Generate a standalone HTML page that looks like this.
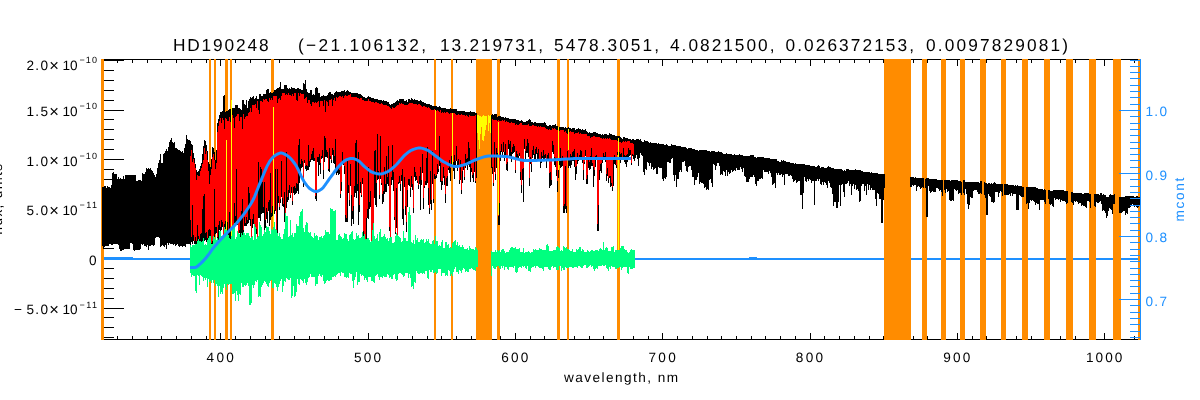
<!DOCTYPE html>
<html><head><meta charset="utf-8"><title>HD190248</title>
<style>html,body{margin:0;padding:0;background:#fff;}svg{display:block}</style></head>
<body>
<svg width="1200" height="400" viewBox="0 0 1200 400" shape-rendering="crispEdges" text-rendering="geometricPrecision">
<rect width="1200" height="400" fill="#fff"/>
<path d="M102.0 59.5H1140M102.0 339.5H1140M102.5 59V340M117.5 60v3M117.5 339v-3M132.5 60v3M132.5 339v-3M147.5 60v3M147.5 339v-3M161.5 60v3M161.5 339v-3M176.5 60v3M176.5 339v-3M191.5 60v3M191.5 339v-3M206.5 60v3M206.5 339v-3M220.5 60v6M220.5 339v-6M235.5 60v3M235.5 339v-3M250.5 60v3M250.5 339v-3M265.5 60v3M265.5 339v-3M279.5 60v3M279.5 339v-3M294.5 60v3M294.5 339v-3M309.5 60v3M309.5 339v-3M324.5 60v3M324.5 339v-3M338.5 60v3M338.5 339v-3M353.5 60v3M353.5 339v-3M368.5 60v6M368.5 339v-6M382.5 60v3M382.5 339v-3M397.5 60v3M397.5 339v-3M412.5 60v3M412.5 339v-3M427.5 60v3M427.5 339v-3M441.5 60v3M441.5 339v-3M456.5 60v3M456.5 339v-3M471.5 60v3M471.5 339v-3M486.5 60v3M486.5 339v-3M500.5 60v3M500.5 339v-3M515.5 60v6M515.5 339v-6M530.5 60v3M530.5 339v-3M544.5 60v3M544.5 339v-3M559.5 60v3M559.5 339v-3M574.5 60v3M574.5 339v-3M589.5 60v3M589.5 339v-3M603.5 60v3M603.5 339v-3M618.5 60v3M618.5 339v-3M633.5 60v3M633.5 339v-3M648.5 60v3M648.5 339v-3M662.5 60v6M662.5 339v-6M677.5 60v3M677.5 339v-3M692.5 60v3M692.5 339v-3M707.5 60v3M707.5 339v-3M721.5 60v3M721.5 339v-3M736.5 60v3M736.5 339v-3M751.5 60v3M751.5 339v-3M765.5 60v3M765.5 339v-3M780.5 60v3M780.5 339v-3M795.5 60v3M795.5 339v-3M810.5 60v6M810.5 339v-6M824.5 60v3M824.5 339v-3M839.5 60v3M839.5 339v-3M854.5 60v3M854.5 339v-3M869.5 60v3M869.5 339v-3M883.5 60v3M883.5 339v-3M898.5 60v3M898.5 339v-3M913.5 60v3M913.5 339v-3M927.5 60v3M927.5 339v-3M942.5 60v3M942.5 339v-3M957.5 60v6M957.5 339v-6M972.5 60v3M972.5 339v-3M986.5 60v3M986.5 339v-3M1001.5 60v3M1001.5 339v-3M1016.5 60v3M1016.5 339v-3M1031.5 60v3M1031.5 339v-3M1045.5 60v3M1045.5 339v-3M1060.5 60v3M1060.5 339v-3M1075.5 60v3M1075.5 339v-3M1090.5 60v3M1090.5 339v-3M1104.5 60v6M1104.5 339v-6M1119.5 60v3M1119.5 339v-3M1134.5 60v3M1134.5 339v-3M104 337.5h10M104 327.5h10M104 317.5h10M104 308.5h20M104 298.5h10M104 288.5h10M104 278.5h10M104 268.5h10M104 258.5h20M104 248.5h10M104 238.5h10M104 228.5h10M104 218.5h10M104 209.5h20M104 199.5h10M104 189.5h10M104 179.5h10M104 169.5h10M104 159.5h20M104 149.5h10M104 139.5h10M104 129.5h10M104 119.5h10M104 110.5h20M104 100.5h10M104 90.5h10M104 80.5h10M104 70.5h10" stroke="#000" stroke-width="1" fill="none"/>
<path d="M104 60.5h20" stroke="#000" stroke-width="1"/>
<path d="M104 259H190M634 259H1139" stroke="#1E90FF" stroke-width="2" fill="none"/>
<path d="M102 257.5H133M749 257.5H757" stroke="#1E90FF" stroke-width="1" fill="none"/>
<g fill="#FF8C00">
<rect x="101" y="59" width="3" height="281"/>
<rect x="209" y="59" width="2" height="281"/>
<rect x="214" y="59" width="2" height="281"/>
<rect x="225" y="59" width="3" height="281"/>
<rect x="230" y="59" width="2" height="281"/>
<rect x="271" y="59" width="3" height="281"/>
<rect x="434" y="59" width="2" height="281"/>
<rect x="451" y="59" width="2" height="281"/>
<rect x="476" y="59" width="16" height="281"/>
<rect x="497" y="59" width="3" height="281"/>
<rect x="557" y="59" width="3" height="281"/>
<rect x="567" y="59" width="2" height="281"/>
<rect x="617" y="59" width="3" height="281"/>
<rect x="884" y="59" width="27" height="281"/>
<rect x="922" y="59" width="5" height="281"/>
<rect x="941" y="59" width="5" height="281"/>
<rect x="960" y="59" width="5" height="281"/>
<rect x="980" y="59" width="6" height="281"/>
<rect x="1001" y="59" width="5" height="281"/>
<rect x="1022" y="59" width="6" height="281"/>
<rect x="1044" y="59" width="6" height="281"/>
<rect x="1066" y="59" width="7" height="281"/>
<rect x="1089" y="59" width="7" height="281"/>
<rect x="1113" y="59" width="8" height="281"/>
<rect x="1138" y="59" width="2" height="281"/>
</g>
<path d="M102.5 187.1V245.7M103.5 186.6V249.1M104.5 186.1V247.1M105.5 185.6V245.7M106.5 188.2V246.4M107.5 186.4V246.4M108.5 187.2V245.6M109.5 186.7V244.1M110.5 188.0V244.0M111.5 185.0V244.9M112.5 173.1V245.3M113.5 171.8V244.3M114.5 174.4V243.7M115.5 173.7V244.1M116.5 173.7V244.0M117.5 178.7V243.8M118.5 176.5V244.8M119.5 178.6V248.9M120.5 178.0V250.6M121.5 178.9V250.6M122.5 178.8V250.0M123.5 176.1V250.4M124.5 178.7V248.7M125.5 175.2V248.7M126.5 175.2V248.7M127.5 175.1V249.4M128.5 174.9V249.3M129.5 175.0V248.5M130.5 174.6V243.4M131.5 174.6V243.3M132.5 175.4V244.0M133.5 175.4V250.2M134.5 175.3V250.5M135.5 175.4V250.4M136.5 180.6V249.9M137.5 180.8V250.4M138.5 179.9V249.7M139.5 180.1V250.1M140.5 180.3V249.4M141.5 180.5V244.2M142.5 173.3V244.9M143.5 173.5V244.3M144.5 173.7V245.7M145.5 171.9V246.0M146.5 168.3V247.0M147.5 168.9V244.9M148.5 167.8V250.2M149.5 169.3V245.7M150.5 168.1V246.1M151.5 169.6V244.8M152.5 171.1V244.6M153.5 172.6V246.0M154.5 175.3V245.4M155.5 176.8V237.8M156.5 173.7V237.2M157.5 168.4V237.3M158.5 163.1V236.9M159.5 160.0V238.0M160.5 154.3V246.8M161.5 163.4V245.7M162.5 162.5V245.4M163.5 154.1V245.5M164.5 153.3V246.5M165.5 150.9V245.4M166.5 149.3V249.2M167.5 151.1V243.4M168.5 147.2V245.1M169.5 141.7V243.4M170.5 139.6V243.6M171.5 138.1V243.8M172.5 142.3V243.5M173.5 143.3V245.2M174.5 142.1V243.8M175.5 147.5V245.9M176.5 148.2V244.8M177.5 148.9V244.0M178.5 149.6V246.1M179.5 149.8V247.1M180.5 150.8V245.7M181.5 152.1V246.3M182.5 151.3V247.1M183.5 152.6V246.0M184.5 147.5V246.3M185.5 144.1V246.8M186.5 135.4V243.9M187.5 139.0V244.0M188.5 140.0V243.9M189.5 139.7V244.4M190.5 140.6V250.6M191.5 144.0V242.4M192.5 145.4V243.6M193.5 152.9V240.9M194.5 158.1V243.8M195.5 163.7V248.9M196.5 169.8V246.0M197.5 171.9V245.9M198.5 171.0V245.9M199.5 168.9V246.7M200.5 166.2V244.8M201.5 162.6V242.6M202.5 154.2V241.6M203.5 146.2V242.3M204.5 140.4V240.9M205.5 141.0V240.4M206.5 145.0V242.0M207.5 151.0V242.2M208.5 161.9V240.8M209.5 164.3V239.0M210.5 166.8V240.9M211.5 158.7V250.6M212.5 147.0V246.3M213.5 147.5V247.6M214.5 151.5V237.0M215.5 160.4V234.0M216.5 150.2V232.5M217.5 122.8V245.1M218.5 118.7V244.8M219.5 115.4V229.8M220.5 111.7V232.1M221.5 112.0V229.7M222.5 111.0V227.2M223.5 96.1V239.8M224.5 95.0V233.6M225.5 111.5V229.1M226.5 111.4V229.9M227.5 111.4V236.9M228.5 109.5V240.8M229.5 109.2V249.4M230.5 109.3V238.5M231.5 108.9V240.1M232.5 107.9V249.0M233.5 107.6V249.0M234.5 107.7V230.6M235.5 104.9V225.6M236.5 105.1V224.5M237.5 104.5V224.6M238.5 107.9V249.1M239.5 107.5V232.9M240.5 109.3V238.4M241.5 109.9V250.0M242.5 99.7V250.0M243.5 99.7V231.8M244.5 104.4V225.7M245.5 104.8V226.4M246.5 100.1V226.3M247.5 108.1V224.4M248.5 100.6V223.0M249.5 98.8V220.1M250.5 97.2V226.0M251.5 98.0V247.0M252.5 97.1V227.8M253.5 96.2V224.0M254.5 99.0V234.7M255.5 98.2V243.2M256.5 96.4V233.7M257.5 99.1V239.6M258.5 98.6V218.4M259.5 94.4V217.9M260.5 94.1V220.8M261.5 96.3V213.9M262.5 96.2V212.8M263.5 94.1V213.2M264.5 93.9V232.2M265.5 93.7V228.3M266.5 89.5V218.7M267.5 89.4V222.6M268.5 88.9V210.6M269.5 92.6V226.1M270.5 91.8V219.6M271.5 93.3V217.4M272.5 93.0V216.2M273.5 92.0V209.8M274.5 90.0V214.2M275.5 89.6V211.2M276.5 89.2V241.6M277.5 88.2V243.3M278.5 88.0V202.8M279.5 86.9V210.1M280.5 82.1V203.4M281.5 88.8V197.2M282.5 88.9V205.6M283.5 88.8V206.6M284.5 84.9V221.6M285.5 84.6V227.9M286.5 84.7V208.0M287.5 88.3V201.9M288.5 89.2V199.7M289.5 88.0V193.1M290.5 88.6V197.9M291.5 87.4V192.6M292.5 87.7V205.2M293.5 87.9V193.2M294.5 88.1V194.7M295.5 89.0V194.3M296.5 89.3V192.7M297.5 87.9V190.5M298.5 88.0V194.1M299.5 89.3V183.0M300.5 89.3V174.0M301.5 89.6V168.3M302.5 89.7V167.4M303.5 82.9V186.6M304.5 84.4V163.4M305.5 79.6V168.8M306.5 88.9V171.4M307.5 91.8V170.2M308.5 92.8V170.0M309.5 92.7V166.5M310.5 90.2V161.9M311.5 90.4V160.1M312.5 94.9V160.1M313.5 94.0V160.6M314.5 94.6V160.9M315.5 87.6V199.4M316.5 87.4V200.8M317.5 88.0V162.1M318.5 93.2V175.9M319.5 93.4V165.3M320.5 96.6V173.6M321.5 96.3V159.1M322.5 95.6V158.4M323.5 95.4V178.6M324.5 95.7V161.5M325.5 95.9V157.2M326.5 95.7V156.6M327.5 95.3V157.8M328.5 92.7V170.6M329.5 92.2V171.8M330.5 92.4V159.4M331.5 94.4V163.1M332.5 94.1V154.7M333.5 94.6V162.8M334.5 92.5V163.8M335.5 91.6V171.7M336.5 91.3V175.3M337.5 91.8V173.4M338.5 91.7V174.9M339.5 91.6V174.1M340.5 92.4V198.0M341.5 91.3V191.1M342.5 90.8V163.7M343.5 90.5V165.2M344.5 90.3V174.0M345.5 92.1V222.0M346.5 91.4V222.0M347.5 89.6V222.0M348.5 91.4V192.5M349.5 91.7V206.0M350.5 91.7V185.9M351.5 92.7V225.6M352.5 92.5V218.6M353.5 92.8V223.9M354.5 93.3V196.9M355.5 92.8V192.7M356.5 93.2V198.4M357.5 93.2V191.4M358.5 93.8V224.5M359.5 94.4V211.7M360.5 94.4V192.5M361.5 94.6V197.4M362.5 96.2V183.6M363.5 96.7V237.9M364.5 96.9V251.4M365.5 97.6V246.8M366.5 98.0V241.8M367.5 96.7V218.1M368.5 96.2V219.2M369.5 96.7V208.6M370.5 96.6V206.8M371.5 97.6V249.7M372.5 97.9V249.7M373.5 98.0V251.8M374.5 98.8V197.8M375.5 98.6V204.9M376.5 98.6V206.6M377.5 98.8V180.0M378.5 99.5V178.8M379.5 99.8V198.7M380.5 100.2V179.4M381.5 99.8V185.3M382.5 100.5V203.9M383.5 100.2V201.8M384.5 100.8V194.2M385.5 101.1V192.1M386.5 101.4V192.0M387.5 102.0V183.8M388.5 101.9V185.8M389.5 103.8V231.1M390.5 104.6V247.6M391.5 104.4V185.3M392.5 103.6V180.3M393.5 103.3V191.2M394.5 103.3V219.9M395.5 101.9V234.1M396.5 101.0V227.9M397.5 100.4V241.4M398.5 100.7V184.3M399.5 99.1V183.0M400.5 98.6V190.9M401.5 99.1V180.9M402.5 99.3V218.9M403.5 99.0V225.3M404.5 100.9V187.3M405.5 101.3V214.7M406.5 100.4V232.2M407.5 101.5V207.4M408.5 99.4V184.8M409.5 99.2V185.7M410.5 99.5V197.4M411.5 97.7V186.8M412.5 98.7V189.6M413.5 99.7V212.5M414.5 99.1V177.1M415.5 99.9V181.3M416.5 100.1V180.3M417.5 100.2V183.1M418.5 100.5V188.5M419.5 100.7V184.4M420.5 100.4V210.0M421.5 101.2V185.2M422.5 102.0V172.8M423.5 102.1V208.8M424.5 103.1V188.4M425.5 102.7V185.1M426.5 103.5V185.3M427.5 104.1V182.6M428.5 104.3V204.7M429.5 104.4V214.4M430.5 105.0V204.1M431.5 105.4V209.8M432.5 106.0V184.0M433.5 106.1V202.7M434.5 106.2V178.6M435.5 105.9V179.0M436.5 106.2V177.6M437.5 106.7V173.7M438.5 107.2V172.3M439.5 106.0V165.5M440.5 107.0V181.5M441.5 108.2V189.6M442.5 107.7V184.8M443.5 108.2V178.0M444.5 108.3V185.2M445.5 108.1V203.0M446.5 108.5V186.0M447.5 108.5V186.1M448.5 108.6V170.4M449.5 108.7V172.5M450.5 108.4V180.5M451.5 108.9V166.2M452.5 109.2V166.8M453.5 108.9V170.8M454.5 108.7V179.4M455.5 108.7V164.5M456.5 109.4V161.1M457.5 110.7V170.9M458.5 110.5V165.1M459.5 110.7V183.7M460.5 110.8V180.0M461.5 111.0V194.4M462.5 110.9V182.6M463.5 111.0V170.1M464.5 111.2V179.6M465.5 112.0V168.0M466.5 111.8V164.7M467.5 111.7V169.8M468.5 111.6V165.0M469.5 111.6V167.3M470.5 111.3V182.4M471.5 111.6V172.3M472.5 111.9V178.4M473.5 112.2V182.0M474.5 112.4V171.5M475.5 113.1V183.3M476.5 112.7V178.3M491.5 114.7V167.5M492.5 114.3V174.2M493.5 114.8V185.9M494.5 114.1V172.4M495.5 114.2V179.6M496.5 114.3V168.4M497.5 116.6V155.8M498.5 116.4V225.0M499.5 116.4V225.0M500.5 116.4V161.3M501.5 117.4V151.8M502.5 117.3V155.5M503.5 116.7V152.4M504.5 117.5V160.7M505.5 117.1V156.9M506.5 117.6V170.3M507.5 117.9V171.1M508.5 117.8V148.5M509.5 119.1V155.9M510.5 118.7V156.0M511.5 118.8V161.8M512.5 118.6V153.5M513.5 119.0V152.7M514.5 119.0V151.6M515.5 119.1V173.0M516.5 120.1V157.5M517.5 120.4V158.6M518.5 119.8V160.4M519.5 120.7V156.2M520.5 120.7V180.1M521.5 120.0V193.4M522.5 120.5V179.9M523.5 121.6V201.6M524.5 121.8V148.8M525.5 121.7V158.9M526.5 121.3V152.5M527.5 120.6V153.4M528.5 119.5V157.3M529.5 119.2V185.5M530.5 120.0V163.5M531.5 122.1V171.9M532.5 121.9V157.8M533.5 122.5V154.7M534.5 122.0V158.5M535.5 122.4V162.3M536.5 122.9V153.7M537.5 122.8V159.7M538.5 122.5V158.8M539.5 123.0V161.1M540.5 123.1V167.5M541.5 123.1V162.8M542.5 122.6V158.2M543.5 123.3V159.5M544.5 122.1V159.8M545.5 122.7V158.4M546.5 124.5V167.7M547.5 125.7V159.1M548.5 125.8V159.3M549.5 124.9V187.6M550.5 125.1V186.1M551.5 126.1V184.8M552.5 124.5V151.6M553.5 124.6V153.8M554.5 125.4V164.6M555.5 123.9V167.1M556.5 126.4V176.0M557.5 126.1V191.6M558.5 126.8V177.5M559.5 126.6V165.0M560.5 126.6V168.4M561.5 127.0V166.5M562.5 127.2V165.8M563.5 126.9V213.4M564.5 127.5V212.9M565.5 127.2V209.3M566.5 127.6V213.2M567.5 128.4V158.9M568.5 127.0V168.0M569.5 128.0V165.6M570.5 128.0V168.1M571.5 129.2V164.5M572.5 127.7V161.2M573.5 127.8V160.7M574.5 128.1V167.0M575.5 129.5V180.0M576.5 128.5V174.1M577.5 128.5V164.2M578.5 128.2V160.9M579.5 128.6V157.0M580.5 129.3V158.0M581.5 129.8V159.5M582.5 129.3V163.4M583.5 129.5V179.9M584.5 129.6V164.3M585.5 129.4V155.6M586.5 131.0V183.7M587.5 132.1V184.4M588.5 132.6V167.6M589.5 131.8V169.5M590.5 133.2V169.2M591.5 133.1V165.7M592.5 133.3V165.6M593.5 131.8V187.4M594.5 132.3V176.3M595.5 132.3V166.5M596.5 132.8V160.2M597.5 133.2V231.0M598.5 133.7V231.0M599.5 133.7V180.0M600.5 133.6V170.8M601.5 134.7V173.3M602.5 134.4V163.4M603.5 134.5V157.6M604.5 133.8V158.8M605.5 133.7V162.4M606.5 134.4V180.7M607.5 134.8V176.0M608.5 134.5V183.2M609.5 133.3V178.0M610.5 133.6V187.0M611.5 133.6V185.6M612.5 135.1V191.2M613.5 134.9V186.2M614.5 135.2V163.6M615.5 136.4V164.5M616.5 136.1V167.7M617.5 136.4V154.5M618.5 136.4V159.2M619.5 136.4V156.9M620.5 137.1V163.4M621.5 138.4V157.4M622.5 138.6V160.2M623.5 137.1V159.0M624.5 137.4V162.2M625.5 137.7V164.4M626.5 137.8V167.0M627.5 138.4V161.6M628.5 138.6V158.6M629.5 138.7V156.3M630.5 139.1V155.3M631.5 139.6V164.9M632.5 139.2V156.2M633.5 139.3V159.4M634.5 140.1V160.7M635.5 139.8V158.4M636.5 138.8V154.7M637.5 138.8V159.2M638.5 139.0V166.2M639.5 139.8V158.1M640.5 139.2V152.6M641.5 141.3V155.1M642.5 142.0V155.6M643.5 141.5V172.0M644.5 140.3V175.0M645.5 140.7V169.4M646.5 140.7V170.3M647.5 141.0V162.0M648.5 141.9V162.8M649.5 142.5V165.6M650.5 142.2V162.9M651.5 142.8V168.7M652.5 142.6V167.4M653.5 143.0V169.5M654.5 143.4V169.3M655.5 143.2V167.9M656.5 143.4V174.0M657.5 143.9V173.5M658.5 143.3V167.4M659.5 143.7V168.0M660.5 144.0V168.1M661.5 143.6V167.7M662.5 144.1V179.4M663.5 144.3V180.6M664.5 144.7V178.4M665.5 144.9V178.6M666.5 144.3V177.0M667.5 144.7V162.1M668.5 145.5V161.7M669.5 145.7V162.8M670.5 146.1V163.4M671.5 144.3V158.9M672.5 144.9V157.5M673.5 144.5V174.9M674.5 144.8V180.5M675.5 145.3V174.6M676.5 146.3V187.2M677.5 146.3V178.9M678.5 145.6V179.1M679.5 145.6V171.7M680.5 145.7V170.3M681.5 146.6V171.9M682.5 146.6V161.6M683.5 146.7V161.8M684.5 147.3V161.2M685.5 147.4V166.2M686.5 148.0V170.8M687.5 148.6V172.2M688.5 148.2V166.8M689.5 147.8V165.6M690.5 147.9V165.9M691.5 148.3V169.9M692.5 149.1V177.1M693.5 149.2V177.1M694.5 149.0V184.7M695.5 149.6V180.1M696.5 149.9V179.6M697.5 149.8V177.2M698.5 150.5V172.6M699.5 150.2V184.4M700.5 150.1V181.8M701.5 150.2V183.2M702.5 149.7V182.9M703.5 150.3V183.8M704.5 150.2V188.4M705.5 150.1V186.8M706.5 150.4V189.8M707.5 150.9V189.4M708.5 151.0V190.2M709.5 151.2V179.7M710.5 151.8V178.6M711.5 151.4V182.7M712.5 151.3V186.5M713.5 151.0V163.7M714.5 151.1V164.8M715.5 151.5V169.5M716.5 151.8V166.3M717.5 152.1V163.3M718.5 151.3V163.1M719.5 152.0V166.0M720.5 151.9V175.3M721.5 152.1V173.8M722.5 153.4V174.5M723.5 153.9V170.5M724.5 153.9V171.7M725.5 153.7V176.2M726.5 153.3V169.5M727.5 154.1V175.8M728.5 153.6V172.2M729.5 154.2V173.9M730.5 153.8V173.4M731.5 153.7V169.9M732.5 154.9V171.5M733.5 154.8V171.2M734.5 154.3V170.4M735.5 155.0V171.4M736.5 154.6V168.0M737.5 154.9V170.2M738.5 154.6V169.9M739.5 154.4V170.0M740.5 155.0V167.3M741.5 155.2V169.1M742.5 155.0V172.1M743.5 155.6V167.9M744.5 155.8V176.2M745.5 155.8V176.7M746.5 155.5V181.9M747.5 155.8V181.6M748.5 155.8V181.5M749.5 156.1V178.8M750.5 154.8V177.4M751.5 155.0V177.2M752.5 155.2V177.3M753.5 155.2V174.9M754.5 157.2V177.4M755.5 156.7V183.8M756.5 157.5V185.8M757.5 157.4V180.5M758.5 156.8V180.7M759.5 156.5V178.7M760.5 157.3V179.4M761.5 157.3V178.4M762.5 156.8V178.6M763.5 157.1V170.4M764.5 157.7V171.8M765.5 157.8V171.5M766.5 157.7V171.6M767.5 158.1V172.0M768.5 158.1V173.7M769.5 158.3V171.4M770.5 158.7V172.7M771.5 159.1V176.6M772.5 159.1V184.9M773.5 159.0V183.9M774.5 159.1V182.7M775.5 159.3V187.5M776.5 159.2V172.8M777.5 161.4V175.0M778.5 161.2V172.9M779.5 162.0V175.4M780.5 162.1V174.7M781.5 160.2V173.6M782.5 160.5V177.0M783.5 160.4V174.9M784.5 160.7V185.1M785.5 161.4V174.3M786.5 161.7V174.3M787.5 161.8V174.4M788.5 161.8V176.1M789.5 162.3V175.8M790.5 162.7V175.0M791.5 163.0V175.6M792.5 162.9V178.9M793.5 162.9V181.5M794.5 163.7V181.0M795.5 163.2V180.1M796.5 163.6V183.4M797.5 164.0V182.1M798.5 164.0V181.4M799.5 163.9V181.0M800.5 164.2V194.8M801.5 163.9V194.7M802.5 164.0V209.0M803.5 163.8V192.7M804.5 163.7V177.4M805.5 165.0V180.8M806.5 164.9V182.0M807.5 165.1V178.6M808.5 165.3V181.1M809.5 165.1V179.2M810.5 165.7V179.5M811.5 165.8V182.5M812.5 165.8V180.6M813.5 166.2V181.4M814.5 166.3V204.5M815.5 166.5V180.7M816.5 166.6V180.6M817.5 165.5V179.3M818.5 165.1V181.4M819.5 165.6V179.0M820.5 167.6V184.4M821.5 167.3V185.2M822.5 167.4V182.4M823.5 167.4V184.6M824.5 167.6V181.8M825.5 167.7V182.6M826.5 167.5V184.8M827.5 166.6V188.0M828.5 166.2V181.1M829.5 167.3V182.7M830.5 167.0V187.1M831.5 167.7V188.0M832.5 167.7V193.9M833.5 167.8V205.7M834.5 169.2V201.5M835.5 169.4V202.0M836.5 169.3V208.0M837.5 169.4V208.0M838.5 168.9V201.7M839.5 168.6V185.2M840.5 169.0V205.8M841.5 168.8V184.8M842.5 170.4V184.4M843.5 170.6V192.0M844.5 170.4V196.6M845.5 170.6V183.7M846.5 168.5V183.9M847.5 168.7V182.5M848.5 168.5V181.3M849.5 169.9V185.6M850.5 169.5V183.6M851.5 170.0V195.1M852.5 169.8V185.9M853.5 170.2V183.6M854.5 170.4V188.5M855.5 169.2V185.4M856.5 169.7V189.5M857.5 169.7V189.1M858.5 170.3V190.7M859.5 170.4V201.9M860.5 170.3V201.3M861.5 171.0V186.3M862.5 171.0V184.0M863.5 172.1V184.0M864.5 171.8V190.8M865.5 171.9V185.6M866.5 171.5V194.9M867.5 172.0V184.1M868.5 172.1V189.8M869.5 172.2V185.0M870.5 172.7V189.5M871.5 172.3V188.2M872.5 172.7V190.0M873.5 172.5V190.3M874.5 172.9V190.2M875.5 172.9V198.8M876.5 172.8V206.3M877.5 173.0V193.4M878.5 173.5V194.4M879.5 173.5V199.2M880.5 173.9V199.1M881.5 173.9V223.0M882.5 174.3V223.0M883.5 174.4V199.7M884.5 174.1V187.8M910.5 176.8V186.9M911.5 176.8V187.2M912.5 177.1V184.5M913.5 177.3V186.2M914.5 177.5V185.3M915.5 177.4V184.7M916.5 177.8V190.7M917.5 177.9V186.9M918.5 177.5V186.4M919.5 177.9V186.7M920.5 177.6V189.3M921.5 178.2V188.1M922.5 177.7V187.3M923.5 177.9V187.9M925.5 178.7V187.6M926.5 178.2V217.0M927.5 177.6V217.0M928.5 177.5V186.4M929.5 179.0V190.7M930.5 178.6V192.6M931.5 178.9V191.7M932.5 178.8V190.8M933.5 179.2V191.9M934.5 178.9V191.9M935.5 178.9V191.9M936.5 179.3V187.8M937.5 179.8V188.2M938.5 179.6V189.0M939.5 180.1V191.3M940.5 179.9V189.6M941.5 179.8V192.0M942.5 180.1V195.7M944.5 180.0V189.7M945.5 180.0V192.6M946.5 180.2V189.4M947.5 179.8V192.3M948.5 180.3V191.0M949.5 180.3V200.3M950.5 180.5V201.0M951.5 180.1V200.8M952.5 180.2V200.4M953.5 179.5V200.5M954.5 179.8V189.0M955.5 179.8V189.9M956.5 179.8V190.8M957.5 179.8V189.6M958.5 181.0V193.8M959.5 181.4V193.0M960.5 181.1V193.4M961.5 181.5V194.7M963.5 180.2V192.7M964.5 180.1V194.5M965.5 181.6V189.3M966.5 182.3V193.5M967.5 181.6V204.0M968.5 182.3V209.2M969.5 181.7V204.7M970.5 182.2V197.4M971.5 182.4V197.5M972.5 182.4V198.2M973.5 182.4V190.5M974.5 182.4V190.1M975.5 182.1V190.4M976.5 181.9V190.2M977.5 182.3V191.7M978.5 182.1V193.7M979.5 182.5V193.8M980.5 181.2V192.6M981.5 181.4V194.0M984.5 181.9V195.0M985.5 183.4V197.9M986.5 183.3V214.9M987.5 183.8V214.5M988.5 182.9V194.4M989.5 183.0V195.9M990.5 183.6V196.5M991.5 183.4V202.2M992.5 183.6V201.7M993.5 182.5V202.6M994.5 182.3V201.9M995.5 182.5V192.0M996.5 183.6V191.9M997.5 184.2V192.0M998.5 183.5V197.0M999.5 183.8V193.3M1000.5 183.5V191.1M1001.5 184.0V191.6M1002.5 184.1V196.1M1004.5 183.6V195.3M1005.5 184.2V195.3M1006.5 184.2V194.9M1007.5 184.4V194.8M1008.5 184.7V195.1M1009.5 185.2V193.6M1010.5 185.0V196.4M1011.5 185.1V193.2M1012.5 185.2V195.5M1013.5 185.3V193.7M1014.5 185.7V193.9M1015.5 185.4V194.0M1016.5 185.6V210.0M1017.5 185.4V210.0M1018.5 185.7V210.0M1019.5 186.3V195.2M1020.5 186.4V195.6M1021.5 185.8V196.6M1022.5 186.6V196.6M1023.5 186.5V197.1M1026.5 186.7V204.2M1027.5 186.6V202.9M1028.5 186.7V209.0M1029.5 187.1V203.4M1030.5 186.7V199.9M1031.5 187.1V200.8M1032.5 186.6V200.4M1033.5 187.1V200.9M1034.5 187.3V201.6M1035.5 187.2V204.5M1036.5 187.5V202.8M1037.5 187.5V203.8M1038.5 188.5V204.0M1039.5 188.7V209.7M1040.5 188.7V200.4M1041.5 188.8V199.9M1042.5 189.0V200.2M1043.5 189.5V200.2M1044.5 189.1V201.5M1045.5 189.7V203.8M1048.5 190.3V199.0M1049.5 189.8V204.4M1050.5 190.5V205.1M1051.5 190.5V204.2M1052.5 190.9V206.1M1053.5 190.3V206.5M1054.5 189.9V198.4M1055.5 190.3V199.5M1056.5 190.0V198.5M1057.5 190.2V198.7M1058.5 189.7V200.3M1059.5 189.8V198.5M1060.5 189.6V202.4M1061.5 189.9V199.8M1062.5 190.1V201.0M1063.5 189.8V200.8M1064.5 190.6V201.3M1065.5 190.7V201.7M1066.5 191.0V203.5M1067.5 191.1V202.8M1071.5 191.8V202.2M1072.5 191.6V202.6M1073.5 192.6V205.2M1074.5 192.5V201.0M1075.5 192.7V202.3M1076.5 193.1V201.0M1077.5 193.1V202.0M1078.5 193.2V203.9M1079.5 192.9V202.6M1080.5 193.3V203.1M1081.5 193.4V206.4M1082.5 193.6V204.9M1083.5 193.5V206.0M1084.5 192.9V205.5M1085.5 193.1V207.0M1086.5 192.5V208.0M1087.5 193.0V200.9M1088.5 193.2V201.3M1089.5 193.6V202.3M1090.5 193.8V207.7M1094.5 193.6V205.6M1095.5 193.5V207.0M1096.5 194.4V202.0M1097.5 194.2V202.7M1098.5 194.3V203.0M1099.5 194.7V202.4M1100.5 193.1V201.2M1101.5 193.3V203.5M1102.5 194.6V211.1M1103.5 194.4V210.2M1104.5 195.1V211.0M1105.5 195.1V212.9M1106.5 197.0V217.6M1107.5 197.4V215.7M1108.5 197.0V210.5M1109.5 194.9V208.1M1110.5 194.4V208.8M1111.5 194.7V209.6M1112.5 195.3V213.5M1113.5 194.7V203.8M1114.5 194.3V203.9M1119.5 196.8V212.5M1120.5 197.3V213.1M1121.5 197.0V212.9M1122.5 197.1V211.5M1123.5 197.3V210.6M1124.5 196.7V211.2M1125.5 195.9V215.1M1126.5 195.7V213.3M1127.5 195.5V213.7M1128.5 195.8V208.0M1129.5 196.1V208.1M1130.5 196.0V206.5M1131.5 196.3V205.1M1132.5 196.2V204.4M1133.5 196.4V205.4M1134.5 196.7V206.5M1135.5 196.7V205.7M1136.5 196.3V207.0M1137.5 196.2V208.3M1138.5 196.9V207.3M1139.5 196.6V205.2" stroke="#000" stroke-width="1" fill="none"/>
<path d="M190.5 155.8V219.7M191.5 149.6V237.0M192.5 161.9V205.2M193.5 158.7V235.2M194.5 162.9V241.2M195.5 167.7V237.3M196.5 179.6V241.2M197.5 175.0V225.2M198.5 175.9V236.4M199.5 175.6V239.2M200.5 170.9V233.8M201.5 168.0V232.6M202.5 164.0V209.3M203.5 159.7V196.4M204.5 148.2V194.3M205.5 154.0V232.9M206.5 150.5V231.6M207.5 159.6V238.0M208.5 170.5V229.8M209.5 184.0V228.6M210.5 174.9V230.0M211.5 168.8V243.0M212.5 157.2V240.9M213.5 153.8V238.2M214.5 159.8V189.3M215.5 168.6V227.1M216.5 162.5V226.9M217.5 131.9V236.5M218.5 125.6V224.9M219.5 120.9V220.6M220.5 118.4V227.3M221.5 123.2V219.7M222.5 118.3V221.8M223.5 119.9V235.9M224.5 128.5V224.0M225.5 117.6V221.0M226.5 119.0V224.3M227.5 121.1V222.3M228.5 121.1V232.2M229.5 116.7V212.1M230.5 122.2V227.6M231.5 129.0V233.1M232.5 115.0V230.3M233.5 117.9V238.0M234.5 128.1V203.1M235.5 116.7V216.2M236.5 115.9V168.5M237.5 113.8V220.6M238.5 114.4V243.5M239.5 120.8V230.4M240.5 116.6V216.8M241.5 116.9V210.8M242.5 129.3V199.4M243.5 113.6V229.5M244.5 118.6V217.2M245.5 117.0V223.3M246.5 116.4V216.9M247.5 116.2V220.3M248.5 113.1V186.6M249.5 111.6V192.9M250.5 107.8V219.4M251.5 111.9V240.5M252.5 104.8V218.9M253.5 105.0V213.5M254.5 104.8V232.1M255.5 104.0V236.3M256.5 108.1V229.1M257.5 101.4V236.8M258.5 109.9V161.6M259.5 114.2V187.1M260.5 100.9V167.4M261.5 101.0V169.1M262.5 101.8V182.3M263.5 99.4V206.5M264.5 100.1V182.1M265.5 99.4V219.6M266.5 99.2V208.1M267.5 101.1V211.8M268.5 101.7V202.3M269.5 98.0V199.5M270.5 100.2V173.3M271.5 98.1V213.1M272.5 100.0V205.9M273.5 96.4V186.9M274.5 95.9V209.5M275.5 96.1V169.3M276.5 96.2V235.9M277.5 102.8V168.6M278.5 99.4V196.2M279.5 97.5V207.1M280.5 99.7V198.6M281.5 95.5V161.3M282.5 93.2V198.4M283.5 93.1V204.0M284.5 92.6V191.7M285.5 95.3V223.7M286.5 94.1V152.4M287.5 94.8V196.8M288.5 93.4V189.7M289.5 94.9V185.2M290.5 95.4V194.9M291.5 96.3V186.6M292.5 93.6V201.3M293.5 95.7V187.4M294.5 92.6V185.8M295.5 93.1V187.6M296.5 99.6V182.8M297.5 101.1V184.1M298.5 93.2V145.3M299.5 95.8V138.9M300.5 93.3V164.1M301.5 94.1V159.0M302.5 93.9V160.5M303.5 93.6V183.2M304.5 99.3V160.2M305.5 98.1V166.3M306.5 96.5V165.4M307.5 102.7V165.5M308.5 99.5V144.7M309.5 99.9V161.3M310.5 103.9V159.3M311.5 105.5V154.4M312.5 101.8V151.0M313.5 102.0V147.9M314.5 102.9V158.2M315.5 101.6V195.9M316.5 103.2V190.6M317.5 102.2V157.3M318.5 100.7V156.5M319.5 106.6V154.4M320.5 101.1V162.8M321.5 101.3V155.7M322.5 100.5V149.7M323.5 105.7V170.0M324.5 100.4V136.4M325.5 111.9V137.6M326.5 100.6V150.0M327.5 102.2V152.0M328.5 106.3V168.6M329.5 100.0V148.3M330.5 100.3V155.5M331.5 99.1V160.0M332.5 105.7V148.3M333.5 99.6V150.2M334.5 97.7V155.6M335.5 101.0V138.5M336.5 96.9V168.9M337.5 98.3V166.4M338.5 97.0V167.5M339.5 96.2V170.4M340.5 96.3V193.8M341.5 96.9V182.3M342.5 95.9V151.7M343.5 97.9V160.2M344.5 96.1V166.1M345.5 95.3V214.8M346.5 95.9V217.5M347.5 95.5V160.5M348.5 95.0V185.4M349.5 95.2V199.5M350.5 94.4V163.5M351.5 97.3V194.9M352.5 96.7V211.4M353.5 96.8V205.8M354.5 96.7V186.4M355.5 96.7V142.7M356.5 96.8V140.4M357.5 97.7V183.6M358.5 98.3V151.7M359.5 99.2V204.6M360.5 98.2V181.9M361.5 97.9V194.8M362.5 99.6V177.5M363.5 100.3V230.9M364.5 100.5V245.8M365.5 101.3V244.0M366.5 101.4V217.9M367.5 100.5V209.1M368.5 98.9V166.9M369.5 100.5V201.8M370.5 100.8V191.2M371.5 102.0V246.5M372.5 102.0V239.2M373.5 101.7V247.7M374.5 102.7V151.1M375.5 101.9V149.5M376.5 102.4V183.2M377.5 103.1V133.9M378.5 103.2V170.8M379.5 103.9V195.2M380.5 104.3V136.2M381.5 103.4V182.6M382.5 103.7V193.5M383.5 104.7V190.8M384.5 104.7V166.7M385.5 104.9V183.7M386.5 104.8V155.7M387.5 105.7V176.6M388.5 105.7V146.3M389.5 107.4V226.9M390.5 108.1V240.9M391.5 108.5V177.1M392.5 107.0V145.2M393.5 108.4V172.1M394.5 107.6V217.2M395.5 107.2V231.9M396.5 105.9V188.0M397.5 105.1V238.9M398.5 104.8V182.3M399.5 102.9V176.3M400.5 103.5V184.0M401.5 102.6V175.4M402.5 103.6V169.4M403.5 104.1V208.5M404.5 104.8V176.7M405.5 104.9V205.9M406.5 105.0V222.2M407.5 104.7V190.0M408.5 103.5V179.3M409.5 102.7V179.0M410.5 103.0V187.6M411.5 103.3V176.4M412.5 103.1V184.3M413.5 104.4V207.5M414.5 104.0V166.8M415.5 103.5V172.2M416.5 104.3V175.8M417.5 104.6V180.9M418.5 103.8V185.3M419.5 104.0V176.3M420.5 105.4V166.8M421.5 105.8V180.1M422.5 106.8V153.7M423.5 106.4V198.2M424.5 106.4V186.0M425.5 107.0V181.3M426.5 107.0V158.4M427.5 107.9V146.7M428.5 107.2V187.7M429.5 108.4V208.2M430.5 108.6V171.2M431.5 109.6V199.7M432.5 110.4V150.8M433.5 110.0V198.6M434.5 109.3V173.6M435.5 111.0V176.4M436.5 110.7V174.8M437.5 110.2V163.9M438.5 111.2V168.8M439.5 111.7V136.0M440.5 109.9V162.7M441.5 112.6V180.8M442.5 112.3V181.0M443.5 112.8V167.3M444.5 112.3V176.1M445.5 112.6V194.3M446.5 111.9V177.6M447.5 112.0V176.1M448.5 112.8V168.1M449.5 113.8V160.2M450.5 112.9V168.2M451.5 112.7V155.6M452.5 112.9V156.6M453.5 113.2V162.3M454.5 113.3V155.4M455.5 113.7V160.6M456.5 115.2V145.7M457.5 114.6V161.2M458.5 114.3V159.4M459.5 115.1V179.8M460.5 115.1V159.6M461.5 114.1V189.7M462.5 114.7V171.3M463.5 114.7V166.3M464.5 115.1V176.8M465.5 115.5V153.7M466.5 115.2V158.6M467.5 116.2V157.6M468.5 116.5V142.1M469.5 115.4V147.6M470.5 116.0V160.3M471.5 116.4V167.6M472.5 115.8V175.0M473.5 115.9V172.6M474.5 115.7V160.9M475.5 115.3V180.9M492.5 119.0V166.8M493.5 120.4V182.6M494.5 119.8V142.0M495.5 119.8V174.2M496.5 120.1V147.7M497.5 120.7V153.1M498.5 119.9V216.1M499.5 121.2V202.7M500.5 120.8V150.7M501.5 120.6V144.2M502.5 120.4V152.2M503.5 121.2V141.6M504.5 120.3V151.7M505.5 121.5V143.5M506.5 120.9V164.3M507.5 122.3V161.6M508.5 122.0V140.2M509.5 123.4V143.9M510.5 123.1V140.9M511.5 122.2V152.2M512.5 123.4V147.2M513.5 123.2V144.4M514.5 123.1V145.8M515.5 124.7V169.9M516.5 124.4V151.3M517.5 124.5V153.6M518.5 124.8V155.5M519.5 123.8V152.6M520.5 123.2V172.3M521.5 123.2V185.0M522.5 125.3V169.2M523.5 125.4V167.6M524.5 125.4V138.5M525.5 125.4V150.6M526.5 125.0V146.1M527.5 125.1V139.3M528.5 124.1V142.6M529.5 125.6V178.1M530.5 126.1V156.9M531.5 126.2V164.1M532.5 124.7V150.3M533.5 125.3V146.0M534.5 125.7V154.0M535.5 126.1V148.6M536.5 126.3V146.7M537.5 126.9V152.9M538.5 126.2V149.2M539.5 126.8V159.1M540.5 126.2V159.8M541.5 127.4V152.3M542.5 127.0V155.8M543.5 127.3V149.8M544.5 127.4V155.4M545.5 127.8V153.8M546.5 128.5V161.2M547.5 129.4V155.4M548.5 129.6V152.7M549.5 129.0V172.5M550.5 129.7V172.4M551.5 130.3V179.5M552.5 128.2V140.9M553.5 129.2V144.7M554.5 128.0V157.0M555.5 129.4V157.9M556.5 130.1V169.5M557.5 129.9V181.4M558.5 130.4V169.6M559.5 130.7V160.7M560.5 129.9V147.9M561.5 130.4V160.1M562.5 130.3V156.3M563.5 130.0V206.1M564.5 131.7V203.9M565.5 130.5V166.2M566.5 132.6V205.9M567.5 133.5V150.8M568.5 131.3V159.0M569.5 132.2V157.6M570.5 131.4V153.7M571.5 132.0V156.4M572.5 132.1V152.4M573.5 131.5V151.4M574.5 133.9V148.6M575.5 133.2V166.5M576.5 132.8V165.7M577.5 133.4V152.7M578.5 132.4V158.6M579.5 133.8V154.6M580.5 133.3V150.0M581.5 133.7V150.5M582.5 134.1V157.0M583.5 134.0V170.3M584.5 134.4V162.1M585.5 134.3V150.3M586.5 134.3V179.3M587.5 136.1V174.9M588.5 135.6V158.6M589.5 136.4V162.2M590.5 137.7V156.1M591.5 136.6V148.3M592.5 137.1V163.4M593.5 136.0V167.2M594.5 136.1V169.5M595.5 136.8V155.6M596.5 136.8V155.4M597.5 136.9V223.6M598.5 137.4V205.0M599.5 137.1V169.5M600.5 137.9V164.0M601.5 138.2V162.9M602.5 139.4V157.3M603.5 138.0V152.9M604.5 138.7V155.8M605.5 138.1V151.7M606.5 138.7V174.4M607.5 138.2V168.2M608.5 139.3V177.9M609.5 137.9V175.6M610.5 139.3V176.2M611.5 139.5V182.7M612.5 139.7V186.8M613.5 140.3V158.2M614.5 139.7V154.8M615.5 139.5V156.8M616.5 139.8V165.2M617.5 141.1V152.0M618.5 141.5V154.2M619.5 142.2V151.7M620.5 142.0V154.2M621.5 143.0V153.4M622.5 142.3V156.8M623.5 140.9V148.1M624.5 141.5V155.2M625.5 141.2V156.3M626.5 142.2V155.0M627.5 141.4V153.5M628.5 141.3V148.3M629.5 141.4V150.3M630.5 142.6V149.9M631.5 143.3V162.6M632.5 142.9V154.2M633.5 143.7V155.1" stroke="#FF0000" stroke-width="1" fill="none"/>
<path d="M226.5 140V250M231.5 100V250M273.5 107V250M435 110V150M452.5 113V165M498.5 122V215M558.5 127V170M568 129V150M618.5 138V250M477.5 115.1V132.5M478.5 115.1V139.7M479.5 115.7V149.4M480.5 116.0V133.6M481.5 116.9V127.4M482.5 116.0V139.6M483.5 115.3V140.8M484.5 116.0V136.1M485.5 116.3V130.1M486.5 116.3V124.9M488.5 115.1V131.0M489.5 115.6V122.7M490.5 115.2V132.7" stroke="#FFFF00" stroke-width="1" fill="none"/>
<path d="M190.5 244.5V273.0M191.5 247.1V276.6M192.5 245.3V275.2M193.5 244.7V276.1M194.5 245.3V275.6M195.5 244.1V290.7M196.5 244.3V293.1M197.5 241.4V274.5M198.5 238.5V276.1M199.5 240.9V285.1M200.5 241.0V275.0M201.5 241.7V276.3M202.5 241.3V276.5M203.5 237.5V281.3M204.5 244.5V277.6M205.5 244.0V280.3M206.5 245.0V277.9M207.5 240.4V287.3M208.5 238.3V279.4M209.5 235.8V282.0M210.5 235.6V280.9M211.5 244.0V282.6M212.5 243.8V279.8M213.5 236.1V282.7M214.5 238.9V280.4M215.5 236.8V285.8M216.5 240.4V284.1M217.5 237.7V285.8M218.5 240.1V297.0M219.5 231.3V285.9M220.5 231.1V294.3M221.5 236.2V292.0M222.5 238.6V293.5M223.5 234.5V288.0M224.5 227.3V284.4M225.5 229.6V286.6M226.5 230.4V290.4M227.5 233.9V283.6M228.5 235.1V284.6M229.5 238.2V284.4M230.5 238.5V283.7M231.5 235.8V284.4M232.5 227.9V293.9M233.5 226.1V293.8M234.5 223.4V293.1M235.5 239.3V300.8M236.5 236.9V290.7M237.5 231.1V295.0M238.5 232.7V301.1M239.5 233.8V294.2M240.5 236.7V294.5M241.5 232.8V282.7M242.5 234.9V287.0M243.5 231.5V287.3M244.5 233.3V284.9M245.5 234.8V285.5M246.5 232.8V284.5M247.5 232.9V283.2M248.5 232.5V285.8M249.5 236.0V304.6M250.5 237.9V305.2M251.5 237.3V302.5M252.5 236.3V284.7M253.5 239.6V287.6M254.5 224.1V285.1M255.5 227.4V281.4M256.5 239.4V282.2M257.5 237.3V280.1M258.5 235.6V296.8M259.5 222.4V296.3M260.5 225.4V296.5M261.5 226.7V286.7M262.5 236.2V285.3M263.5 234.3V282.8M264.5 229.7V281.0M265.5 232.1V282.3M266.5 225.8V284.1M267.5 227.1V286.4M268.5 227.4V287.0M269.5 231.2V282.5M270.5 233.5V280.5M271.5 229.0V280.4M272.5 229.8V287.8M273.5 227.0V287.8M274.5 221.6V283.4M275.5 228.9V283.7M276.5 230.0V287.1M277.5 233.2V290.8M278.5 236.0V286.5M279.5 233.3V283.7M280.5 237.4V280.8M281.5 238.5V279.3M282.5 238.9V291.7M283.5 234.4V285.6M284.5 228.8V281.0M285.5 213.3V282.2M286.5 216.1V277.7M287.5 215.9V278.8M288.5 237.4V279.8M289.5 236.4V280.2M290.5 220.4V277.9M291.5 235.1V297.5M292.5 232.5V296.3M293.5 237.4V285.7M294.5 233.4V296.8M295.5 233.1V295.7M296.5 224.1V291.7M297.5 226.2V279.2M298.5 225.7V284.4M299.5 216.4V284.8M300.5 211.5V278.5M301.5 210.9V280.4M302.5 208.6V280.7M303.5 227.9V282.6M304.5 232.3V278.6M305.5 225.3V282.6M306.5 222.2V285.3M307.5 223.1V281.7M308.5 231.7V277.9M309.5 233.0V276.7M310.5 232.0V274.1M311.5 236.4V277.2M312.5 237.0V277.4M313.5 238.1V276.7M314.5 233.0V276.8M315.5 236.2V286.2M316.5 234.5V284.0M317.5 235.9V283.7M318.5 239.5V276.0M319.5 237.0V273.5M320.5 236.5V275.6M321.5 236.1V277.2M322.5 238.1V275.3M323.5 236.2V281.1M324.5 234.9V284.1M325.5 230.1V283.3M326.5 231.8V280.5M327.5 232.0V279.9M328.5 232.1V280.7M329.5 233.8V281.2M330.5 208.0V280.2M331.5 209.4V280.1M332.5 209.1V276.7M333.5 211.4V276.6M334.5 210.8V276.4M335.5 209.8V276.9M336.5 239.6V274.7M337.5 239.6V273.9M338.5 234.5V272.9M339.5 234.0V272.5M340.5 235.9V276.1M341.5 236.8V272.4M342.5 238.6V273.2M343.5 238.4V273.4M344.5 232.5V276.6M345.5 234.0V276.6M346.5 234.3V278.4M347.5 239.1V277.4M348.5 241.0V277.6M349.5 235.3V272.9M350.5 233.9V273.5M351.5 232.3V273.9M352.5 230.6V280.6M353.5 239.4V288.0M354.5 239.6V280.2M355.5 238.8V276.6M356.5 233.0V271.9M357.5 235.7V284.6M358.5 234.7V281.7M359.5 238.4V281.9M360.5 237.6V274.0M361.5 237.2V276.4M362.5 232.3V274.6M363.5 235.8V276.4M364.5 233.6V279.8M365.5 238.7V278.2M366.5 239.1V279.6M367.5 238.0V281.8M368.5 238.2V276.6M369.5 240.0V277.4M370.5 241.7V277.0M371.5 240.6V281.4M372.5 229.8V280.9M373.5 223.2V282.0M374.5 236.2V283.2M375.5 239.1V275.7M376.5 237.9V275.2M377.5 233.7V273.7M378.5 240.6V277.2M379.5 231.8V280.2M380.5 229.3V277.0M381.5 237.1V276.9M382.5 237.1V278.1M383.5 236.1V276.2M384.5 234.3V276.8M385.5 236.5V277.3M386.5 239.0V277.0M387.5 238.1V274.4M388.5 240.8V275.1M389.5 237.7V277.6M390.5 236.7V276.5M391.5 236.8V278.6M392.5 243.1V278.5M393.5 242.9V275.2M394.5 242.3V274.0M395.5 235.7V279.3M396.5 233.4V280.6M397.5 235.2V280.1M398.5 235.8V273.5M399.5 236.7V273.2M400.5 238.2V272.8M401.5 241.6V273.7M402.5 240.7V275.3M403.5 231.3V276.7M404.5 237.8V276.3M405.5 238.1V272.8M406.5 240.8V273.3M407.5 240.7V272.6M408.5 211.8V278.3M409.5 207.0V274.4M410.5 214.9V277.6M411.5 242.0V287.4M412.5 242.8V286.0M413.5 240.4V289.1M414.5 243.7V281.7M415.5 235.0V282.7M416.5 240.0V270.6M417.5 237.8V272.7M418.5 242.4V273.7M419.5 241.9V273.5M420.5 239.9V272.7M421.5 239.1V272.9M422.5 239.5V273.5M423.5 238.9V273.4M424.5 243.1V273.6M425.5 242.1V271.0M426.5 238.8V271.1M427.5 240.5V278.2M428.5 239.3V278.7M429.5 243.3V270.2M430.5 243.5V272.3M431.5 243.9V271.8M432.5 240.6V270.4M433.5 240.4V272.9M434.5 244.1V272.9M435.5 236.3V271.9M436.5 241.3V273.8M437.5 241.1V272.8M438.5 245.5V269.1M439.5 244.7V268.9M440.5 245.9V268.5M441.5 241.6V275.9M442.5 239.9V273.3M443.5 248.3V272.8M444.5 247.9V272.7M445.5 242.4V275.8M446.5 241.6V274.8M447.5 245.0V276.1M448.5 244.2V269.8M449.5 248.4V271.1M450.5 246.9V275.8M451.5 248.2V274.4M452.5 242.6V275.9M453.5 241.9V271.8M454.5 240.9V268.5M455.5 239.8V267.3M456.5 244.9V272.4M457.5 242.2V272.0M458.5 245.5V273.6M459.5 245.1V269.9M460.5 246.5V270.9M461.5 247.2V272.5M462.5 245.2V269.5M463.5 247.3V267.7M464.5 249.2V268.6M465.5 249.3V272.4M466.5 249.1V271.2M467.5 247.9V272.3M468.5 249.9V272.3M469.5 246.2V268.7M470.5 248.0V269.4M471.5 249.2V268.2M472.5 248.8V269.3M473.5 249.3V269.6M474.5 249.6V270.1M475.5 247.0V270.8M476.5 247.9V266.9M477.5 249.6V266.6M491.5 251.3V275.7M492.5 251.7V265.7M493.5 251.6V267.9M494.5 251.6V268.5M495.5 250.1V268.8M496.5 251.5V267.3M497.5 249.5V266.3M498.5 251.3V266.2M499.5 250.1V268.2M500.5 251.5V268.5M501.5 250.3V265.5M502.5 249.0V267.9M503.5 249.1V265.5M504.5 250.5V270.4M505.5 252.6V266.6M506.5 252.1V267.2M507.5 251.5V269.0M508.5 251.8V270.3M509.5 249.5V267.2M510.5 248.0V266.8M511.5 247.2V266.5M512.5 246.5V267.4M513.5 247.7V268.2M514.5 248.2V266.4M515.5 246.9V272.2M516.5 248.7V273.1M517.5 249.2V271.9M518.5 249.3V267.6M519.5 247.5V266.8M520.5 251.6V267.2M521.5 251.5V267.6M522.5 251.5V266.4M523.5 247.7V266.5M524.5 252.5V265.9M525.5 252.1V268.2M526.5 251.6V268.7M527.5 252.0V265.9M528.5 251.4V270.7M529.5 252.1V270.7M530.5 252.5V271.5M531.5 252.1V268.4M532.5 252.0V267.1M533.5 249.0V266.8M534.5 249.7V265.9M535.5 249.0V267.8M536.5 250.2V265.9M537.5 249.5V266.4M538.5 249.5V266.8M539.5 247.5V267.6M540.5 249.4V268.4M541.5 249.1V268.3M542.5 249.5V268.6M543.5 249.5V270.6M544.5 249.8V267.1M545.5 250.0V267.2M546.5 244.5V266.9M547.5 244.4V266.9M548.5 245.5V269.0M549.5 250.7V270.3M550.5 251.2V269.7M551.5 250.5V267.1M552.5 251.4V266.2M553.5 250.4V267.8M554.5 249.8V266.9M555.5 250.3V267.3M556.5 246.9V269.9M557.5 246.1V269.9M558.5 246.5V270.3M559.5 248.1V266.4M560.5 250.6V266.4M561.5 249.5V271.3M562.5 251.1V268.4M563.5 245.9V270.2M564.5 246.7V269.6M565.5 248.0V266.5M566.5 247.3V268.2M567.5 248.7V268.2M568.5 249.4V267.6M569.5 250.4V267.3M570.5 250.6V266.7M571.5 250.8V266.7M572.5 249.0V267.6M573.5 252.1V267.8M574.5 251.7V266.8M575.5 252.4V267.2M576.5 249.4V267.2M577.5 249.5V267.5M578.5 248.7V266.2M579.5 247.1V265.7M580.5 247.4V267.0M581.5 250.6V267.5M582.5 249.3V267.7M583.5 250.2V265.7M584.5 252.3V265.3M585.5 252.4V265.3M586.5 252.4V267.9M587.5 249.8V267.7M588.5 251.3V266.5M589.5 251.7V265.7M590.5 250.6V265.4M591.5 250.3V267.2M592.5 250.3V266.1M593.5 251.4V268.8M594.5 250.5V271.1M595.5 250.2V269.1M596.5 250.4V267.6M597.5 250.3V268.5M598.5 250.9V266.3M599.5 248.5V265.9M600.5 248.4V265.9M601.5 249.1V266.2M602.5 250.1V265.4M603.5 241.5V266.1M604.5 250.1V265.6M605.5 247.5V265.2M606.5 247.1V267.6M607.5 247.7V269.0M608.5 250.7V270.9M609.5 251.2V266.9M610.5 250.7V268.5M611.5 247.0V265.5M612.5 247.4V267.4M613.5 245.6V267.2M614.5 251.6V267.4M615.5 249.7V268.5M616.5 250.1V268.8M617.5 249.9V268.1M618.5 250.1V268.0M619.5 249.8V266.7M620.5 248.0V267.0M621.5 245.7V269.9M622.5 245.5V268.4M623.5 245.7V266.5M624.5 248.9V267.1M625.5 250.1V266.7M626.5 249.8V266.7M627.5 251.5V272.6M628.5 252.6V273.8M629.5 251.7V266.9M630.5 250.0V268.9M631.5 248.9V269.0M632.5 249.6V268.9M633.5 249.7V268.4M634.5 249.6V268.3" stroke="#00FF7F" stroke-width="1" fill="none"/>
<path d="M190.0 267.5 L191.5 267.5 L193.0 267.5 L194.5 267.5 L196.0 267.3 L197.5 266.3 L199.0 264.9 L200.5 263.6 L202.0 262.2 L203.5 260.6 L205.0 259.0 L206.5 257.2 L208.0 255.3 L209.5 253.3 L211.0 251.2 L212.5 249.2 L214.0 247.2 L215.5 245.4 L217.0 243.7 L218.5 242.0 L220.0 240.3 L221.5 238.7 L223.0 237.1 L224.5 235.5 L226.0 234.0 L227.5 232.5 L229.0 231.0 L230.5 229.6 L232.0 228.1 L233.5 226.6 L235.0 225.0 L236.5 223.3 L238.0 221.5 L239.5 219.7 L241.0 217.8 L242.5 215.9 L244.0 213.9 L245.5 211.8 L247.0 209.7 L248.5 207.5 L250.0 205.2 L251.5 202.7 L253.0 200.0 L254.5 196.8 L256.0 193.1 L257.5 189.3 L259.0 185.4 L260.5 181.8 L262.0 178.2 L263.5 174.5 L265.0 170.9 L266.5 167.4 L268.0 164.4 L269.5 161.7 L271.0 159.6 L272.5 157.7 L274.0 156.2 L275.5 155.2 L277.0 154.3 L278.5 153.6 L280.0 153.1 L281.5 153.0 L283.0 153.4 L284.5 154.1 L286.0 154.9 L287.5 155.8 L289.0 157.0 L290.5 158.4 L292.0 160.1 L293.5 162.0 L295.0 164.0 L296.5 166.4 L298.0 169.2 L299.5 172.4 L301.0 175.7 L302.5 178.8 L304.0 181.5 L305.5 183.7 L307.0 185.6 L308.5 187.4 L310.0 188.8 L311.5 189.8 L313.0 190.7 L314.5 191.3 L316.0 191.6 L317.5 191.3 L319.0 190.7 L320.5 189.8 L322.0 188.8 L323.5 187.2 L325.0 185.2 L326.5 183.0 L328.0 180.8 L329.5 178.7 L331.0 176.7 L332.5 174.6 L334.0 172.5 L335.5 170.5 L337.0 168.5 L338.5 166.6 L340.0 165.0 L341.5 163.5 L343.0 162.1 L344.5 160.8 L346.0 160.0 L347.5 159.4 L349.0 158.9 L350.5 158.5 L352.0 158.4 L353.5 158.6 L355.0 159.1 L356.5 159.7 L358.0 160.5 L359.5 161.5 L361.0 163.0 L362.5 164.6 L364.0 166.1 L365.5 167.4 L367.0 168.6 L368.5 169.8 L370.0 170.9 L371.5 171.9 L373.0 172.5 L374.5 173.0 L376.0 173.4 L377.5 173.7 L379.0 174.0 L380.5 174.0 L382.0 173.8 L383.5 173.4 L385.0 172.8 L386.5 172.2 L388.0 171.5 L389.5 170.6 L391.0 169.5 L392.5 168.2 L394.0 166.9 L395.5 165.5 L397.0 164.0 L398.5 162.3 L400.0 160.5 L401.5 158.7 L403.0 157.0 L404.5 155.4 L406.0 154.1 L407.5 152.9 L409.0 151.7 L410.5 150.7 L412.0 150.0 L413.5 149.4 L415.0 148.9 L416.5 148.4 L418.0 148.1 L419.5 148.0 L421.0 148.1 L422.5 148.4 L424.0 148.9 L425.5 149.4 L427.0 150.0 L428.5 150.7 L430.0 151.7 L431.5 152.8 L433.0 154.0 L434.5 155.1 L436.0 156.2 L437.5 157.3 L439.0 158.5 L440.5 159.6 L442.0 160.7 L443.5 161.7 L445.0 162.5 L446.5 163.3 L448.0 164.1 L449.5 164.8 L451.0 165.5 L452.5 166.0 L454.0 166.4 L455.5 166.5 L457.0 166.4 L458.5 166.2 L460.0 165.9 L461.5 165.5 L463.0 165.1 L464.5 164.6 L466.0 164.2 L467.5 163.6 L469.0 162.8 L470.5 162.1 L472.0 161.3 L473.5 160.6 L475.0 160.0 L476.5 159.5 L478.0 158.9 L479.5 158.4 L481.0 157.9 L482.5 157.4 L484.0 156.9 L485.5 156.5 L487.0 156.3 L488.5 156.1 L490.0 156.0 L491.5 156.0 L493.0 156.0 L494.5 156.1 L496.0 156.1 L497.5 156.1 L499.0 156.2 L500.5 156.3 L502.0 156.3 L503.5 156.4 L505.0 156.5 L506.5 156.6 L508.0 156.8 L509.5 157.1 L511.0 157.5 L512.5 157.8 L514.0 158.2 L515.5 158.6 L517.0 159.0 L518.5 159.4 L520.0 159.8 L521.5 160.1 L523.0 160.3 L524.5 160.4 L526.0 160.5 L527.5 160.5 L529.0 160.5 L530.5 160.5 L532.0 160.5 L533.5 160.4 L535.0 160.4 L536.5 160.4 L538.0 160.3 L539.5 160.3 L541.0 160.3 L542.5 160.2 L544.0 160.2 L545.5 160.1 L547.0 160.1 L548.5 160.0 L550.0 160.0 L551.5 159.9 L553.0 159.9 L554.5 159.8 L556.0 159.7 L557.5 159.6 L559.0 159.5 L560.5 159.4 L562.0 159.3 L563.5 159.2 L565.0 159.1 L566.5 159.0 L568.0 158.9 L569.5 158.9 L571.0 158.8 L572.5 158.7 L574.0 158.6 L575.5 158.6 L577.0 158.5 L578.5 158.5 L580.0 158.5 L581.5 158.5 L583.0 158.5 L584.5 158.5 L586.0 158.5 L587.5 158.5 L589.0 158.5 L590.5 158.5 L592.0 158.5 L593.5 158.5 L595.0 158.5 L596.5 158.5 L598.0 158.5 L599.5 158.5 L601.0 158.5 L602.5 158.5 L604.0 158.5 L605.5 158.5 L607.0 158.5 L608.5 158.5 L610.0 158.5 L611.5 158.5 L613.0 158.5 L614.5 158.5 L616.0 158.5 L617.5 158.5 L619.0 158.5 L620.5 158.5 L622.0 158.5 L623.5 158.5 L625.0 158.5 L626.5 158.5 L628.0 158.5 L629.5 158.5 L631.0 158.5" stroke="#1E90FF" stroke-width="3" fill="none" stroke-linejoin="round" shape-rendering="auto"/>
<path d="M1140.5 59V340M1141 337.5h-11M1141 331.5h-11M1141 324.5h-11M1141 318.5h-11M1141 312.5h-11M1141 305.5h-11M1141 299.5h-22M1141 293.5h-11M1141 286.5h-11M1141 280.5h-11M1141 274.5h-11M1141 268.5h-11M1141 261.5h-11M1141 255.5h-11M1141 249.5h-11M1141 242.5h-11M1141 236.5h-22M1141 230.5h-11M1141 223.5h-11M1141 217.5h-11M1141 211.5h-11M1141 205.5h-11M1141 198.5h-11M1141 192.5h-11M1141 186.5h-11M1141 179.5h-11M1141 173.5h-22M1141 167.5h-11M1141 160.5h-11M1141 154.5h-11M1141 148.5h-11M1141 142.5h-11M1141 135.5h-11M1141 129.5h-11M1141 123.5h-11M1141 116.5h-11M1141 110.5h-22M1141 104.5h-11M1141 97.5h-11M1141 91.5h-11M1141 85.5h-11M1141 78.5h-11M1141 72.5h-11M1141 66.5h-11M1141 60.5h-11" stroke="#1E90FF" stroke-width="1" fill="none"/>
<text x="173" y="51" font-size="17.3" font-family="Liberation Sans, Arial, sans-serif" fill="#000" text-anchor="start" textLength="95.5" >HD190248</text>
<text x="298" y="51" font-size="17.3" font-family="Liberation Sans, Arial, sans-serif" fill="#000" text-anchor="start" textLength="128" >(−21.106132,</text>
<text x="440" y="51" font-size="17.3" font-family="Liberation Sans, Arial, sans-serif" fill="#000" text-anchor="start" textLength="103" >13.219731,</text>
<text x="554" y="51" font-size="17.3" font-family="Liberation Sans, Arial, sans-serif" fill="#000" text-anchor="start" textLength="105" >5478.3051,</text>
<text x="670" y="51" font-size="17.3" font-family="Liberation Sans, Arial, sans-serif" fill="#000" text-anchor="start" textLength="104.5" >4.0821500,</text>
<text x="785.5" y="51" font-size="17.3" font-family="Liberation Sans, Arial, sans-serif" fill="#000" text-anchor="start" textLength="128.5" >0.026372153,</text>
<text x="926" y="51" font-size="17.3" font-family="Liberation Sans, Arial, sans-serif" fill="#000" text-anchor="start" textLength="142" >0.0097829081)</text>
<text x="206.6" y="362" font-size="13.6" font-family="Liberation Sans, Arial, sans-serif" fill="#000" text-anchor="start" textLength="27.2" >400</text>
<text x="353.91" y="362" font-size="13.6" font-family="Liberation Sans, Arial, sans-serif" fill="#000" text-anchor="start" textLength="27.2" >500</text>
<text x="501.21999999999997" y="362" font-size="13.6" font-family="Liberation Sans, Arial, sans-serif" fill="#000" text-anchor="start" textLength="27.2" >600</text>
<text x="648.5300000000001" y="362" font-size="13.6" font-family="Liberation Sans, Arial, sans-serif" fill="#000" text-anchor="start" textLength="27.2" >700</text>
<text x="795.84" y="362" font-size="13.6" font-family="Liberation Sans, Arial, sans-serif" fill="#000" text-anchor="start" textLength="27.2" >800</text>
<text x="943.1500000000001" y="362" font-size="13.6" font-family="Liberation Sans, Arial, sans-serif" fill="#000" text-anchor="start" textLength="27.2" >900</text>
<text x="1086.06" y="362" font-size="13.6" font-family="Liberation Sans, Arial, sans-serif" fill="#000" text-anchor="start" textLength="36.2" >1000</text>
<text x="564" y="381.7" font-size="13.6" font-family="Liberation Sans, Arial, sans-serif" fill="#000" text-anchor="start" textLength="114" >wavelength, nm</text>
<text x="26.5" y="70" font-size="13.6" font-family="Liberation Sans, Arial, sans-serif" fill="#000" text-anchor="start" textLength="21.5" >2.0</text>
<text x="49.3" y="70.6" font-size="16.5" font-family="Liberation Sans, Arial, sans-serif" fill="#000" text-anchor="start" >×</text>
<text x="62.5" y="70" font-size="13.6" font-family="Liberation Sans, Arial, sans-serif" fill="#000" text-anchor="start" textLength="15" >10</text>
<text x="79.5" y="63.2" font-size="9.0" font-family="Liberation Sans, Arial, sans-serif" fill="#000" text-anchor="start" textLength="17.5" >−10</text>
<text x="26.5" y="116" font-size="13.6" font-family="Liberation Sans, Arial, sans-serif" fill="#000" text-anchor="start" textLength="21.5" >1.5</text>
<text x="49.3" y="116.6" font-size="16.5" font-family="Liberation Sans, Arial, sans-serif" fill="#000" text-anchor="start" >×</text>
<text x="62.5" y="116" font-size="13.6" font-family="Liberation Sans, Arial, sans-serif" fill="#000" text-anchor="start" textLength="15" >10</text>
<text x="79.5" y="109.2" font-size="9.0" font-family="Liberation Sans, Arial, sans-serif" fill="#000" text-anchor="start" textLength="17.5" >−10</text>
<text x="26.5" y="165.6" font-size="13.6" font-family="Liberation Sans, Arial, sans-serif" fill="#000" text-anchor="start" textLength="21.5" >1.0</text>
<text x="49.3" y="166.2" font-size="16.5" font-family="Liberation Sans, Arial, sans-serif" fill="#000" text-anchor="start" >×</text>
<text x="62.5" y="165.6" font-size="13.6" font-family="Liberation Sans, Arial, sans-serif" fill="#000" text-anchor="start" textLength="15" >10</text>
<text x="79.5" y="158.79999999999998" font-size="9.0" font-family="Liberation Sans, Arial, sans-serif" fill="#000" text-anchor="start" textLength="17.5" >−10</text>
<text x="26.5" y="215" font-size="13.6" font-family="Liberation Sans, Arial, sans-serif" fill="#000" text-anchor="start" textLength="21.5" >5.0</text>
<text x="49.3" y="215.6" font-size="16.5" font-family="Liberation Sans, Arial, sans-serif" fill="#000" text-anchor="start" >×</text>
<text x="62.5" y="215" font-size="13.6" font-family="Liberation Sans, Arial, sans-serif" fill="#000" text-anchor="start" textLength="15" >10</text>
<text x="79.5" y="208.2" font-size="9.0" font-family="Liberation Sans, Arial, sans-serif" fill="#000" text-anchor="start" textLength="17.5" >−11</text>
<text x="89" y="264.6" font-size="13.6" font-family="Liberation Sans, Arial, sans-serif" fill="#000" text-anchor="start" >0</text>
<text x="14" y="314.4" font-size="13.6" font-family="Liberation Sans, Arial, sans-serif" fill="#000" text-anchor="start" textLength="10" >−</text>
<text x="26.5" y="314.4" font-size="13.6" font-family="Liberation Sans, Arial, sans-serif" fill="#000" text-anchor="start" textLength="21.5" >5.0</text>
<text x="49.3" y="315.0" font-size="16.5" font-family="Liberation Sans, Arial, sans-serif" fill="#000" text-anchor="start" >×</text>
<text x="62.5" y="314.4" font-size="13.6" font-family="Liberation Sans, Arial, sans-serif" fill="#000" text-anchor="start" textLength="15" >10</text>
<text x="79.5" y="307.59999999999997" font-size="9.0" font-family="Liberation Sans, Arial, sans-serif" fill="#000" text-anchor="start" textLength="17.5" >−11</text>
<text x="1145.5" y="116" font-size="13.6" font-family="Liberation Sans, Arial, sans-serif" fill="#1E90FF" text-anchor="start" textLength="21.5" >1.0</text>
<text x="1145.5" y="180" font-size="13.6" font-family="Liberation Sans, Arial, sans-serif" fill="#1E90FF" text-anchor="start" textLength="21.5" >0.9</text>
<text x="1145.5" y="242" font-size="13.6" font-family="Liberation Sans, Arial, sans-serif" fill="#1E90FF" text-anchor="start" textLength="21.5" >0.8</text>
<text x="1145.5" y="306" font-size="13.6" font-family="Liberation Sans, Arial, sans-serif" fill="#1E90FF" text-anchor="start" textLength="21.5" >0.7</text>
<text transform="translate(1184,221.6) rotate(-90)" font-size="13.6" font-family="Liberation Sans, Arial, sans-serif" fill="#1E90FF" textLength="44">mcont</text>
<text transform="translate(2,235) rotate(-90)" font-size="13.6" font-family="Liberation Sans, Arial, sans-serif" fill="#000" textLength="71">flux, units</text>
</svg>
</body></html>
